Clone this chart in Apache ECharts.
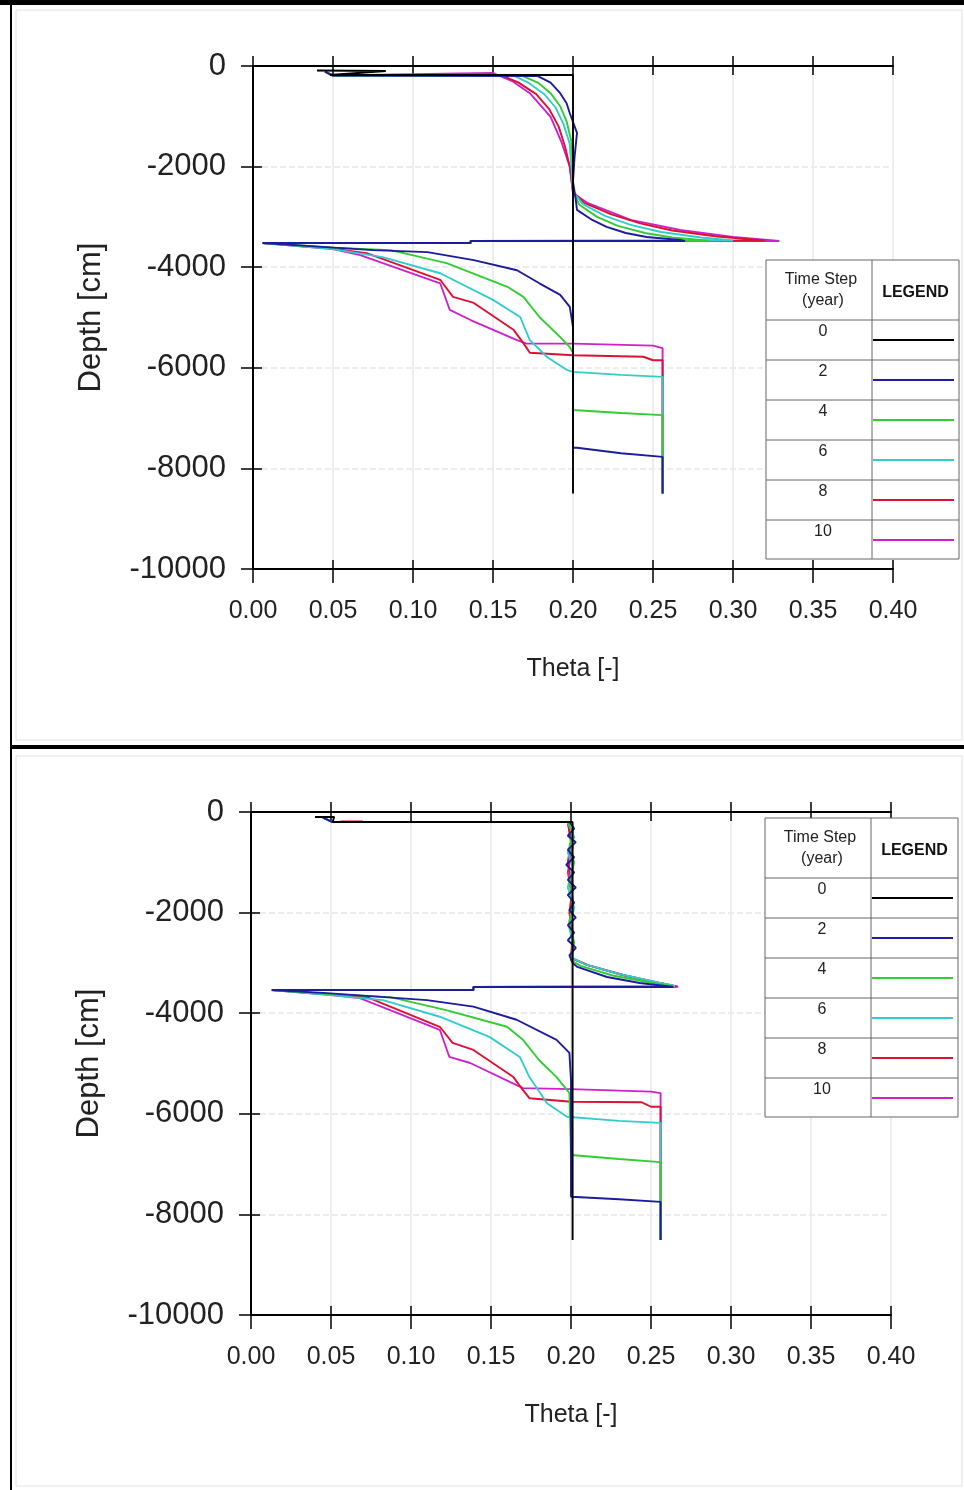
<!DOCTYPE html>
<html>
<head>
<meta charset="utf-8">
<script src="https://cdn.jsdelivr.net/npm/echarts@6/dist/echarts.min.js"></script>
<style>
html,body{margin:0;padding:0;background:#fff;}
#c{width:964px;height:1490px;}
</style>
</head>
<body>
<div id="c"></div>
<script>
// ---------- axis ticks ----------
const thetaTicks = [0.00, 0.05, 0.10, 0.15, 0.20, 0.25, 0.30, 0.35, 0.40];
const depthTicks = [-10000, -8000, -6000, -4000, -2000, 0];

// ---------- legend table ----------
const legendYears = ['0', '2', '4', '6', '8', '10'];
const yearColors = ['#000000', '#1c1c9c', '#33cc33', '#33cccc', '#dd1133', '#cc22cc'];

// ---------- TOP panel profiles [theta, depth cm] ----------
const topYear0 = [[0.040,-90],[0.083,-100],[0.048,-180],[0.200,-180],[0.200,-8500]];
const topYear2 = [[0.045,-110],[0.050,-190],[0.178,-200],[0.186,-330],[0.192,-540],[0.196,-740],[0.198,-940],[0.2025,-1330],[0.201,-1800],[0.200,-2300],[0.2015,-2600],[0.2025,-2860],[0.212,-3060],[0.221,-3200],[0.233,-3320],[0.246,-3400],[0.267,-3460],[0.270,-3480],[0.136,-3480],[0.136,-3520],[0.006,-3520],[0.046,-3600],[0.075,-3660],[0.109,-3700],[0.138,-3860],[0.165,-4060],[0.179,-4320],[0.192,-4550],[0.198,-4790],[0.200,-5190],[0.200,-7590],[0.2025,-7590],[0.230,-7700],[0.256,-7770],[0.256,-8500]];
const topYear4 = [[0.045,-110],[0.050,-190],[0.168,-190],[0.178,-330],[0.186,-540],[0.192,-800],[0.196,-1100],[0.199,-1500],[0.200,-2000],[0.200,-2500],[0.204,-2760],[0.215,-3000],[0.228,-3180],[0.245,-3320],[0.262,-3410],[0.285,-3475],[0.136,-3480],[0.136,-3520],[0.006,-3520],[0.050,-3610],[0.086,-3660],[0.121,-3920],[0.159,-4390],[0.169,-4590],[0.179,-4990],[0.192,-5390],[0.198,-5590],[0.200,-5700],[0.200,-6840],[0.230,-6900],[0.256,-6940],[0.256,-8500]];
const topYear6 = [[0.045,-110],[0.050,-190],[0.163,-190],[0.172,-330],[0.182,-560],[0.189,-820],[0.194,-1150],[0.198,-1550],[0.199,-2000],[0.200,-2500],[0.206,-2740],[0.220,-2980],[0.236,-3160],[0.255,-3300],[0.280,-3410],[0.300,-3470],[0.136,-3480],[0.136,-3520],[0.006,-3520],[0.050,-3640],[0.081,-3800],[0.117,-4120],[0.150,-4650],[0.167,-4990],[0.173,-5450],[0.184,-5790],[0.196,-6040],[0.200,-6080],[0.230,-6140],[0.256,-6180],[0.256,-8500]];
const topYear8 = [[0.045,-110],[0.050,-190],[0.155,-180],[0.166,-330],[0.177,-560],[0.185,-850],[0.191,-1200],[0.195,-1600],[0.198,-2000],[0.200,-2500],[0.207,-2720],[0.224,-2950],[0.242,-3130],[0.262,-3270],[0.290,-3390],[0.320,-3470],[0.136,-3480],[0.136,-3520],[0.006,-3520],[0.050,-3630],[0.071,-3720],[0.117,-4250],[0.125,-4590],[0.138,-4710],[0.163,-5250],[0.169,-5510],[0.173,-5700],[0.200,-5750],[0.244,-5780],[0.250,-5850],[0.256,-5850],[0.256,-8500]];
const topYear10 = [[0.045,-110],[0.050,-190],[0.150,-140],[0.162,-300],[0.173,-540],[0.186,-1010],[0.193,-1530],[0.198,-2000],[0.200,-2530],[0.209,-2720],[0.236,-3060],[0.267,-3260],[0.300,-3400],[0.329,-3480],[0.136,-3480],[0.136,-3520],[0.006,-3520],[0.050,-3640],[0.067,-3760],[0.117,-4320],[0.123,-4850],[0.136,-5050],[0.165,-5450],[0.171,-5520],[0.200,-5520],[0.250,-5560],[0.256,-5610],[0.256,-8500]];

// ---------- BOTTOM panel profiles [theta, depth cm] ----------
const botYear0 = [[0.040,-100],[0.052,-100],[0.051,-200],[0.201,-200],[0.201,-8510]];
const botYear2 = [[0.045,-110],[0.051,-200],[0.199,-200],[0.202,-330],[0.198,-470],[0.203,-600],[0.198,-750],[0.202,-900],[0.197,-1050],[0.202,-1200],[0.198,-1350],[0.203,-1500],[0.198,-1650],[0.202,-1800],[0.199,-1950],[0.203,-2100],[0.198,-2250],[0.202,-2400],[0.198,-2550],[0.203,-2700],[0.199,-2850],[0.201,-3000],[0.204,-3080],[0.2225,-3280],[0.243,-3400],[0.264,-3480],[0.139,-3480],[0.139,-3540],[0.013,-3540],[0.0475,-3600],[0.110,-3740],[0.139,-3870],[0.166,-4130],[0.191,-4530],[0.199,-4790],[0.200,-5330],[0.200,-7650],[0.230,-7700],[0.256,-7750],[0.256,-8510]];
const botYear4 = [[0.045,-110],[0.051,-200],[0.198,-200],[0.201,-400],[0.199,-700],[0.202,-1000],[0.199,-1400],[0.201,-1800],[0.199,-2200],[0.202,-2600],[0.200,-2950],[0.206,-3060],[0.226,-3250],[0.246,-3370],[0.264,-3470],[0.139,-3480],[0.139,-3540],[0.013,-3540],[0.050,-3620],[0.087,-3680],[0.122,-3940],[0.160,-4270],[0.170,-4530],[0.180,-4930],[0.191,-5270],[0.199,-5590],[0.200,-6820],[0.230,-6900],[0.256,-6960],[0.256,-8510]];
const botYear6 = [[0.045,-110],[0.051,-200],[0.198,-200],[0.202,-500],[0.198,-800],[0.201,-1100],[0.198,-1500],[0.202,-1900],[0.199,-2300],[0.201,-2600],[0.201,-2900],[0.208,-3020],[0.230,-3220],[0.250,-3360],[0.265,-3460],[0.139,-3480],[0.139,-3540],[0.013,-3540],[0.050,-3640],[0.0825,-3740],[0.118,-4070],[0.149,-4470],[0.168,-4870],[0.174,-5270],[0.185,-5790],[0.1975,-6060],[0.230,-6140],[0.256,-6180],[0.256,-8510]];
const botYear8 = [[0.056,-190],[0.070,-190],[0.051,-200],[0.198,-200],[0.200,-600],[0.198,-1000],[0.201,-1500],[0.199,-2000],[0.201,-2500],[0.200,-2900],[0.210,-3040],[0.232,-3240],[0.252,-3380],[0.266,-3470],[0.139,-3480],[0.139,-3540],[0.013,-3540],[0.050,-3630],[0.0725,-3680],[0.118,-4270],[0.126,-4590],[0.139,-4730],[0.164,-5270],[0.170,-5530],[0.174,-5690],[0.200,-5760],[0.244,-5770],[0.250,-5860],[0.256,-5860],[0.256,-8510]];
const botYear10 = [[0.045,-110],[0.051,-200],[0.198,-200],[0.201,-700],[0.198,-1200],[0.201,-1700],[0.199,-2200],[0.201,-2600],[0.200,-2900],[0.211,-3050],[0.234,-3250],[0.254,-3390],[0.267,-3475],[0.139,-3480],[0.139,-3540],[0.013,-3540],[0.050,-3640],[0.068,-3700],[0.118,-4330],[0.124,-4870],[0.137,-4990],[0.166,-5430],[0.170,-5490],[0.200,-5510],[0.250,-5560],[0.256,-5590],[0.256,-8510]];

const topProfiles = [topYear0, topYear2, topYear4, topYear6, topYear8, topYear10];
const botProfiles = [botYear0, botYear2, botYear4, botYear6, botYear8, botYear10];

// ---------- layout ----------
const panels = [
  {left: 253, top: 66, tableX: 766, tableY: 260, profiles: topProfiles},
  {left: 251, top: 812, tableX: 765, tableY: 818, profiles: botProfiles}
];
const GW = 640, GH = 503;
const FONT = '"Liberation Sans", Arial, sans-serif';

const grid = [], xAxis = [], yAxis = [], series = [], graphic = [];

panels.forEach((p, g) => {
  grid.push({left: p.left, top: p.top, width: GW, height: GH, containLabel: false});
  const xBase = {gridIndex: g, type: 'value', min: thetaTicks[0], max: thetaTicks[thetaTicks.length - 1],
    interval: thetaTicks[1] - thetaTicks[0]};
  const yBase = {gridIndex: g, type: 'value', min: depthTicks[0], max: depthTicks[depthTicks.length - 1],
    interval: depthTicks[1] - depthTicks[0]};
  const xi = xAxis.length, yi = yAxis.length;
  xAxis.push(Object.assign({}, xBase, {
    position: 'bottom',
    axisLine: {show: true, onZero: false, lineStyle: {color: '#000', width: 2}},
    axisTick: {show: true, inside: false, length: 14, lineStyle: {color: '#000', width: 1.5}},
    axisLabel: {show: true, margin: 30, fontSize: 25, fontFamily: FONT, color: '#222',
      formatter: v => v.toFixed(2)},
    splitLine: {show: true, lineStyle: {color: '#ededed', width: 2}},
    name: 'Theta [-]', nameLocation: 'middle', nameGap: 88,
    nameTextStyle: {fontSize: 25, fontFamily: FONT, color: '#222'}
  }));
  xAxis.push(Object.assign({}, xBase, {
    position: 'bottom',
    axisLine: {show: false, onZero: false},
    axisTick: {show: true, inside: true, length: 9, lineStyle: {color: '#000', width: 1.5}},
    axisLabel: {show: false}, splitLine: {show: false}
  }));
  xAxis.push(Object.assign({}, xBase, {
    position: 'top',
    axisLine: {show: true, onZero: false, lineStyle: {color: '#000', width: 2}},
    axisTick: {show: true, inside: true, length: 9, lineStyle: {color: '#000', width: 1.5}},
    axisLabel: {show: false}, splitLine: {show: false}
  }));
  xAxis.push(Object.assign({}, xBase, {
    position: 'top',
    axisLine: {show: false, onZero: false},
    axisTick: {show: true, inside: false, length: 10, lineStyle: {color: '#000', width: 1.5}},
    axisLabel: {show: false}, splitLine: {show: false}
  }));
  yAxis.push(Object.assign({}, yBase, {
    position: 'left',
    axisLine: {show: true, onZero: false, lineStyle: {color: '#000', width: 2}},
    axisTick: {show: true, inside: false, length: 12, lineStyle: {color: '#000', width: 1.5}},
    axisLabel: {show: true, margin: 27, fontSize: 31, fontFamily: FONT, color: '#222',
      formatter: v => String(v)},
    splitLine: {show: true, lineStyle: {color: '#e6e6e6', width: 1.5, type: 'dashed'}},
    name: 'Depth [cm]', nameLocation: 'middle', nameRotate: 90, nameGap: 146,
    nameTextStyle: {fontSize: 31, fontFamily: FONT, color: '#222'}
  }));
  yAxis.push(Object.assign({}, yBase, {
    position: 'left',
    axisLine: {show: false, onZero: false},
    axisTick: {show: true, inside: true, length: 9, lineStyle: {color: '#000', width: 1.5}},
    axisLabel: {show: false}, splitLine: {show: false}
  }));

  // draw later years first so year 2 / year 0 end up on top
  for (let k = p.profiles.length - 1; k >= 0; k--) {
    series.push({
      type: 'line', name: 'Year ' + legendYears[k], xAxisIndex: xi, yAxisIndex: yi,
      data: p.profiles[k], showSymbol: false, symbol: 'none', smooth: false,
      lineStyle: {color: yearColors[k], width: 1.9}, z: 10 + (p.profiles.length - k),
      animation: false, silent: true
    });
  }

  // legend table
  const tx = p.tableX, ty = p.tableY, tw = 193, col = 106, hh = 60, rh = 40;
  const th = hh + rh * legendYears.length - 1;
  graphic.push({type: 'rect', shape: {x: tx, y: ty, width: tw, height: th},
    style: {fill: '#fff', stroke: '#666', lineWidth: 1}, z: 100});
  graphic.push({type: 'line', shape: {x1: tx + col, y1: ty, x2: tx + col, y2: ty + th},
    style: {stroke: '#666', lineWidth: 1}, z: 101});
  for (let r = 0; r < legendYears.length; r++) {
    const yTop = ty + hh + r * rh;
    graphic.push({type: 'line', shape: {x1: tx, y1: yTop, x2: tx + tw, y2: yTop},
      style: {stroke: '#666', lineWidth: 1}, z: 101});
    graphic.push({type: 'text', x: tx + col / 2 + 4, y: yTop + 12,
      style: {text: legendYears[r], font: '16px ' + FONT, fill: '#222', align: 'center', verticalAlign: 'middle'}, z: 102});
    graphic.push({type: 'line', shape: {x1: tx + col + 1, y1: yTop + 20, x2: tx + tw - 5, y2: yTop + 20},
      style: {stroke: yearColors[r], lineWidth: 2}, z: 102});
  }
  graphic.push({type: 'text', x: tx + col / 2 + 2, y: ty + 20,
    style: {text: 'Time Step', font: '16px ' + FONT, fill: '#222', align: 'center', verticalAlign: 'middle'}, z: 102});
  graphic.push({type: 'text', x: tx + col / 2 + 4, y: ty + 41,
    style: {text: '(year)', font: '16px ' + FONT, fill: '#222', align: 'center', verticalAlign: 'middle'}, z: 102});
  graphic.push({type: 'text', x: tx + col + (tw - col) / 2, y: ty + 33,
    style: {text: 'LEGEND', font: 'bold 16px ' + FONT, fill: '#111', align: 'center', verticalAlign: 'middle'}, z: 102});
});

// page frame
graphic.push({type: 'rect', shape: {x: 0, y: 0, width: 964, height: 5}, style: {fill: '#000'}, z: 200});
graphic.push({type: 'rect', shape: {x: 10, y: 0, width: 2, height: 1490}, style: {fill: '#000'}, z: 200});
graphic.push({type: 'rect', shape: {x: 10, y: 745, width: 954, height: 4}, style: {fill: '#000'}, z: 200});
graphic.push({type: 'rect', shape: {x: 16, y: 10, width: 946, height: 730}, style: {fill: 'none', stroke: '#e2e2e2', lineWidth: 1}, z: 1});
graphic.push({type: 'rect', shape: {x: 16, y: 756, width: 946, height: 730}, style: {fill: 'none', stroke: '#e2e2e2', lineWidth: 1}, z: 1});

const chart = echarts.init(document.getElementById('c'), null, {renderer: 'canvas'});
chart.setOption({
  animation: false,
  backgroundColor: '#ffffff',
  grid, xAxis, yAxis, series, graphic
});
</script>
</body>
</html>
